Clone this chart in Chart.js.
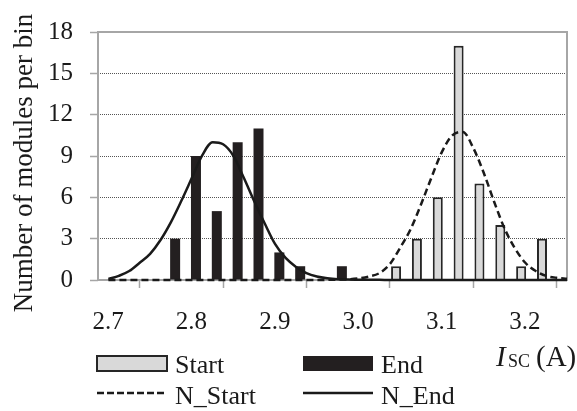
<!DOCTYPE html>
<html>
<head>
<meta charset="utf-8">
<script src="https://cdn.jsdelivr.net/npm/chart.js@4.4.1/dist/chart.umd.min.js"></script>
<style>
  body { margin: 0; background: #fff; }
  canvas { display: block; }
</style>
</head>
<body>
<canvas id="chart" width="577" height="411"></canvas>
<script>
// histogram bins (centre of each 0.025 A bin)
const binCenters = [2.7125, 2.7375, 2.7625, 2.7875, 2.8125, 2.8375, 2.8625, 2.8875, 2.9125, 2.9375, 2.9625,
  2.9875, 3.0125, 3.0375, 3.0625, 3.0875, 3.1125, 3.1375, 3.1625, 3.1875, 3.2125, 3.2375];
const startCounts = [0, 0, 0, 0, 0, 0, 0, 0, 0, 0, 0, 0, 0, 0, 1, 3, 6, 17, 7, 4, 1, 3];
const endCounts = [0, 0, 0, 3, 9, 5, 10, 11, 2, 1, 0, 1, 0, 0, 0, 0, 0, 0, 0, 0, 0, 0];

// normal curves
const curveX = [2.7125, 2.725, 2.7375, 2.75, 2.7625, 2.775, 2.7875, 2.8, 2.8125, 2.825, 2.8375, 2.85,
  2.8625, 2.875, 2.8875, 2.9, 2.9125, 2.925, 2.9375, 2.95, 2.9625, 2.975, 2.9875, 3.0, 3.0125, 3.025,
  3.0375, 3.05, 3.0625, 3.075, 3.0875, 3.1, 3.1125, 3.125, 3.1375, 3.15, 3.1625, 3.175, 3.1875, 3.2,
  3.2125, 3.225, 3.2375, 3.25, 3.2625];
const nStart = [0, 0, 0, 0, 0, 0, 0, 0, 0, 0, 0, 0, 0, 0, 0, 0, 0, 0, 0, 0, 0, 0.01, 0.03, 0.05, 0.12, 0.25,
  0.5, 1.15, 2.35, 3.7, 5.5, 7.45, 9.3, 10.5, 10.75, 9.6, 7.8, 5.7, 3.75, 2.3,
  1.25, 0.65, 0.3, 0.16, 0.1];
const nEnd = [0.07, 0.3, 0.65, 1.25, 1.9, 2.9, 4.2, 5.75, 7.4, 9.05, 10.0, 9.85,
  9.0, 7.4, 5.7, 4.1, 2.6, 1.6, 0.95, 0.5, 0.25, 0.12, 0.05, 0.03, 0.02, 0.01,
  0.01, 0, 0, 0, 0, 0, 0, 0, 0, 0, 0, 0, 0, 0, 0, 0, 0, 0, 0];

const xTicks = [2.7, 2.8, 2.9, 3.0, 3.1, 3.2];
const yTicks = [0, 3, 6, 9, 12, 15, 18];

const serif = '"Liberation Serif", serif';
const ink = '#1a1a1a';

const pairs = (xs, ys) => xs.map((x, i) => ({ x: x, y: ys[i] }));

// frame, y title, legend and x title
const extras = {
  id: 'extras',
  beforeDatasetsDraw(chart) {
    const { ctx, chartArea: a } = chart;
    ctx.save();
    ctx.strokeStyle = '#a6a6a6';
    ctx.lineWidth = 2;
    ctx.strokeRect(a.left, a.top, a.right - a.left, a.bottom - a.top);
    ctx.restore();
  },
  afterDraw(chart) {
    const ctx = chart.ctx;
    ctx.save();
    ctx.fillStyle = ink;

    // y title
    ctx.save();
    ctx.translate(25, 163);
    ctx.rotate(-Math.PI / 2);
    ctx.font = '27px ' + serif;
    ctx.textAlign = 'center';
    ctx.textBaseline = 'middle';
    ctx.fillText('Number of modules per bin', 0, 0);
    ctx.restore();

    // legend
    ctx.font = '26px ' + serif;
    ctx.textBaseline = 'alphabetic';
    ctx.textAlign = 'left';

    ctx.fillStyle = '#d9d9d9';
    ctx.fillRect(97, 356, 70, 15);
    ctx.strokeStyle = '#262626';
    ctx.lineWidth = 2;
    ctx.strokeRect(97, 356, 70, 15);
    ctx.fillStyle = '#231f20';
    ctx.fillRect(303, 356, 70, 15);

    ctx.strokeStyle = ink;
    ctx.lineWidth = 2.5;
    ctx.setLineDash([7, 3]);
    ctx.beginPath(); ctx.moveTo(97, 393); ctx.lineTo(167, 393); ctx.stroke();
    ctx.setLineDash([]);
    ctx.beginPath(); ctx.moveTo(303, 393); ctx.lineTo(373, 393); ctx.stroke();

    ctx.fillStyle = ink;
    ctx.fillText('Start', 175, 373);
    ctx.fillText('End', 381, 373);
    ctx.fillText('N_Start', 175, 404);
    ctx.fillText('N_End', 381, 404);

    // x title: I_SC (A)
    ctx.font = 'italic 29px ' + serif;
    ctx.fillText('I', 496, 366);
    ctx.font = '18px ' + serif;
    ctx.fillText('SC', 508, 367);
    ctx.font = '29px ' + serif;
    ctx.fillText('(A)', 536, 366);
    ctx.restore();
  }
};

new Chart(document.getElementById('chart'), {
  type: 'bar',
  data: {
    datasets: [
      {
        type: 'line', label: 'N_Start', data: pairs(curveX, nStart),
        borderColor: ink, borderWidth: 2.5, borderDash: [7, 4],
        pointRadius: 0, cubicInterpolationMode: 'monotone', clip: false, order: 0
      },
      {
        type: 'line', label: 'N_End', data: pairs(curveX, nEnd),
        borderColor: ink, borderWidth: 2.5,
        pointRadius: 0, cubicInterpolationMode: 'monotone', clip: false, order: 0
      },
      {
        label: 'Start', data: pairs(binCenters, startCounts),
        backgroundColor: '#d9d9d9', borderColor: '#262626', borderWidth: 2,
        categoryPercentage: 0.8, barPercentage: 1.2, order: 1
      },
      {
        label: 'End', data: pairs(binCenters, endCounts),
        backgroundColor: '#231f20', borderColor: '#231f20', borderWidth: 0,
        categoryPercentage: 0.8, barPercentage: 1.2, order: 1
      }
    ]
  },
  options: {
    responsive: false,
    animation: false,
    layout: { padding: { top: 16, right: 10, left: 0, bottom: 0 } },
    plugins: { legend: { display: false }, tooltip: { enabled: false } },
    scales: {
      x: {
        type: 'linear', min: 2.7, max: 3.2625, offset: false,
        afterBuildTicks: s => { s.ticks = xTicks.map(v => ({ value: v })); },
        afterFit: s => { s.height = 131; },
        grid: { drawOnChartArea: false, tickLength: 8, tickColor: '#a6a6a6', tickWidth: 1.5 },
        border: { display: false },
        ticks: {
          padding: 19, labelOffset: 10, color: ink, maxRotation: 0, autoSkip: false,
          font: { family: serif, size: 25 },
          callback: v => v.toFixed(1)
        }
      },
      y: {
        min: 0, max: 18,
        afterBuildTicks: s => { s.ticks = yTicks.map(v => ({ value: v })); },
        afterFit: s => { s.width = 98; },
        grid: { color: '#555', lineWidth: 1, tickLength: 8, tickColor: '#a6a6a6', tickWidth: 1.5, tickBorderDash: [] },
        border: { display: false, dash: [1, 1] },
        ticks: { padding: 17, color: ink, font: { family: serif, size: 25 } }
      }
    }
  },
  plugins: [extras]
});
</script>
</body>
</html>
